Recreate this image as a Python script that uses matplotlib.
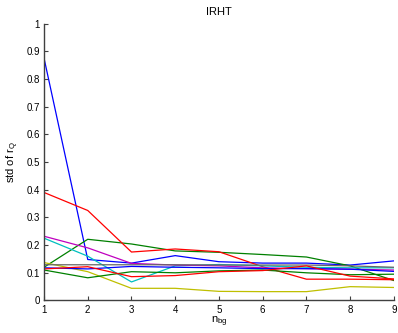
import matplotlib
matplotlib.use("Agg")
import matplotlib.pyplot as plt

plt.rcParams['font.family'] = ['Liberation Sans', 'DejaVu Sans']

n_bg = [1, 2, 3, 4, 5, 6, 7, 8, 9]

# std of r_Q per run, in plotting order (MATLAB colour order)
blue_1 = [0.875, 0.148, 0.135, 0.162, 0.140, 0.135, 0.135, 0.128, 0.143]
green_1 = [0.120, 0.221, 0.204, 0.179, 0.174, 0.166, 0.157, 0.125, 0.072]
red_1 = [0.390, 0.325, 0.175, 0.186, 0.176, 0.122, 0.077, 0.077, 0.075]
cyan_1 = [0.225, 0.160, 0.067, 0.125, 0.130, 0.125, 0.120, 0.118, 0.118]
magenta_1 = [0.232, 0.190, 0.134, 0.128, 0.125, 0.118, 0.115, 0.113, 0.110]
yellow_1 = [0.137, 0.104, 0.044, 0.044, 0.033, 0.032, 0.032, 0.050, 0.047]
black_1 = [0.129, 0.129, 0.129, 0.129, 0.128, 0.128, 0.128, 0.125, 0.120]
blue_2 = [0.118, 0.114, 0.123, 0.120, 0.118, 0.115, 0.115, 0.113, 0.105]
green_2 = [0.110, 0.082, 0.104, 0.100, 0.107, 0.110, 0.100, 0.093, 0.095]
red_2 = [0.114, 0.122, 0.086, 0.090, 0.104, 0.108, 0.125, 0.088, 0.078]

series = [blue_1, green_1, red_1, cyan_1, magenta_1, yellow_1, black_1,
          blue_2, green_2, red_2]
colors = [(0, 0, 1), (0, 0.5, 0), (1, 0, 0), (0, 0.75, 0.75), (0.75, 0, 0.75),
          (0.75, 0.75, 0), (0.4, 0.4, 0.4), (0, 0, 1), (0, 0.5, 0), (1, 0, 0)]

fig = plt.figure(figsize=(3.98, 3.33), dpi=100)
ax = fig.add_axes([0.1106, 0.0976, 0.879, 0.8318])

for y, c in zip(series, colors):
    ax.plot(n_bg, y, color=c, linewidth=0.9)

ax.set_xlim(1, 9)
ax.set_ylim(0, 1)
ax.set_xticks(n_bg)
ax.set_yticks([0, 0.1, 0.2, 0.3, 0.4, 0.5, 0.6, 0.7, 0.8, 0.9, 1])
ax.set_yticklabels(['0', '0.1', '0.2', '0.3', '0.4', '0.5', '0.6', '0.7', '0.8', '0.9', '1'])

for s in ['top', 'right']:
    ax.spines[s].set_visible(False)
for s in ['left', 'bottom']:
    ax.spines[s].set_color('#404040')
    ax.spines[s].set_linewidth(1.0)
ax.tick_params(direction='in', length=3, width=0.8, color='#404040',
               labelsize=7, pad=3)

ax.set_title('IRHT', fontsize=8, pad=6)
ax.set_xlabel('n$_{\\mathregular{bg}}$', fontsize=8, labelpad=0)
ax.set_ylabel('std of r$_{\\mathregular{Q}}$', fontsize=8, labelpad=4)

fig.savefig('out.png', dpi=100)
